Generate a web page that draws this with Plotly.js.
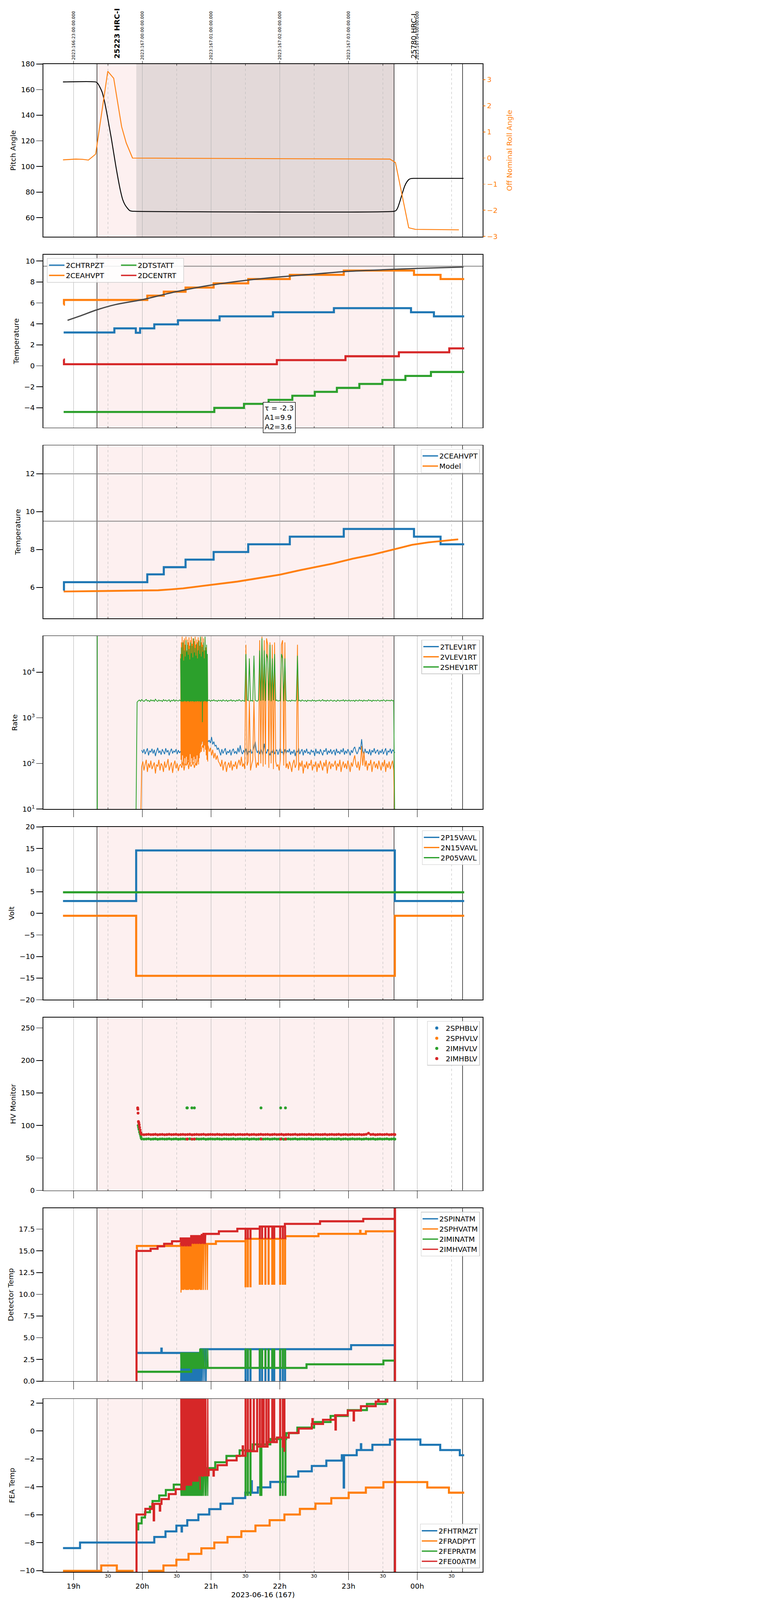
<!DOCTYPE html>
<html>
<head>
<meta charset="utf-8">
<script src="https://cdn.plot.ly/plotly-3.0.1.min.js"></script>
<style>html,body{margin:0;padding:0;background:#fff;overflow:hidden}</style>
</head>
<body>
<div id="plot" style="width:2000px;height:6200px"></div>
<script>
// ---- time helpers: local times, 00:xx belongs to the next day
function T(s){ return (s < '12' ? '2023-06-16 ' : '2023-06-15 ') + s; }

// ---- annotations / events
var hourTicks = ['19:00','20:00','21:00','22:00','23:00','00:00'];
var utcTickText = ['2023:166:23:00:00.000','2023:167:00:00:00.000','2023:167:01:00:00.000',
                   '2023:167:02:00:00.000','2023:167:03:00:00.000','2023:167:04:00:00.000'];
var halfHourTicks = ['19:30','20:30','21:30','22:30','23:30','00:30'];
var halfHourText = '30';
var obsNames = ['25223 HRC-I', '25780 HRC-I'];
var obsTimes = ['19:38:00', '23:57:10'];
var obsBold = [true, false];
var markTimes = ['19:20:30', '23:39:48', '00:39:36'];
var shadeStart = '19:20:30', shadeEnd = '23:39:48';
var dwellStart = '19:54:48';
var dateLabel = '2023-06-16 (167)';

// ---- panel 1: pitch / roll
var pitchT = ['18:50:50','19:19:18','19:21:00','19:23:00','19:25:00','19:27:00','19:29:00','19:31:00','19:33:00','19:35:00',
  '19:37:00','19:39:00','19:41:00','19:43:00','19:45:00','19:47:00','19:49:00','19:51:00','19:53:00','23:40:00',
  '23:41:30','23:43:00','23:45:00','23:47:00','23:49:00','23:51:00','23:53:00','23:55:00','23:57:00','00:40:24'];
var pitchV = [166,166,165,162,158,151,142,132,122,111,100,90,81,74,70,67.5,65.6,65.1,65,65,
  65.6,67.8,73,79,84.5,88,90,90.6,90.7,90.7];
var rollT = ['18:50:50','19:02:00','19:08:00','19:13:00','19:19:20','19:29:54','19:35:06','19:42:00','19:46:00','19:51:30',
  '20:30:00','21:30:00','22:30:00','23:36:12','23:41:00','23:52:36','23:58:24','00:36:24'];
var rollV = [-0.07,-0.04,-0.05,-0.08,0.15,3.32,3.05,1.2,0.58,0.0,-0.01,-0.02,-0.03,-0.04,-0.17,-2.67,-2.73,-2.75];

// ---- panel 2: temperatures
var chtrT = ['18:51:24','19:35:40','19:54:24','19:58:06','20:10:30','20:31:12','21:07:30','21:54:06','22:47:18','23:54:36','00:14:36','00:41:00'];
var chtrV = [3.18,3.57,3.15,3.57,3.95,4.34,4.72,5.11,5.50,5.11,4.72,4.72];
var ceahT = ['18:51:20','18:51:40','20:04:24','20:18:48','20:37:48','21:02:18','21:32:30','22:08:48','22:55:54','23:57:12','00:20:24','00:41:00'];
var ceahV = [5.84,6.28,6.69,7.07,7.47,7.87,8.28,8.68,9.09,8.68,8.28,8.28];
var dtstT = ['18:51:24','21:02:54','21:28:48','21:50:18','22:11:00','22:30:36','22:49:54','23:09:30','23:29:36','23:49:42','00:12:00','00:41:00'];
var dtstV = [-4.41,-4.02,-3.63,-3.25,-2.86,-2.49,-2.11,-1.73,-1.35,-0.97,-0.59,-0.59];
var dcenT = ['18:51:20','18:51:40','21:57:30','22:57:24','23:44:00','00:28:00','00:41:00'];
var dcenV = [0.6,0.15,0.54,0.91,1.29,1.66,1.66];
var fitT = ['18:54:48','19:04:54','19:20:42','19:36:36','20:00:00','20:30:00','21:00:00','21:30:00','22:00:00','22:30:00','23:00:00','23:30:00','00:00:00','00:40:24'];
var fitV = [4.34,4.72,5.35,5.84,6.31,7.08,7.70,8.15,8.48,8.75,9.01,9.16,9.29,9.42];
var tempLimits = [9.5];
var fitText = 'τ = -2.3<br>A1=9.9<br>A2=3.6';

// ---- panel 3: model
var modelT = ['18:51:24','19:20:42','20:00:00','20:13:54','20:25:24','20:35:36','20:48:30','21:02:54','21:23:00','21:40:18',
  '22:00:24','22:17:36','22:32:00','22:46:24','23:03:42','23:20:54','23:38:12','23:55:30','00:09:42','00:35:48'];
var modelV = [5.785,5.80,5.83,5.85,5.90,5.95,6.05,6.15,6.31,6.48,6.68,6.91,7.09,7.26,7.52,7.73,7.99,8.25,8.38,8.54];
var modelLimits = [12, 9.5];

// ---- panel 4: rates, sampled every minute from 19:54:30
var rateStart = '19:54:30';
var tlevRate = [null,null,null,null,null,
  195,170,205,160,185,215,150,190,175,210,165,200,145,185,220,170,190,155,205,180,160,215,175,195,150,185,210,165,190,175,205,160,195,170,
  185,160,200,175,210,165,190,180,215,170,200,185,230,170,210,190,
  300,280,260,330,300,380,460,350,300,320,280,380,260,300,240,250,200,220,
  180,150,205,165,190,215,155,185,170,200,150,190,210,165,185,160,220,175,250,180,
  160,195,170,210,150,190,175,205,165,185,230,300,200,170,195,160,210,180,150,270,
  190,165,205,175,150,195,170,210,160,185,200,155,190,215,170,180,150,205,165,195,
  175,210,155,185,165,200,145,190,175,215,160,185,205,150,195,170,210,165,180,155,
  200,175,190,145,210,165,185,160,205,175,150,195,180,215,155,190,170,205,160,185,
  195,150,210,170,185,160,200,175,215,155,190,165,205,180,150,195,170,210,230,185,
  160,185,230,200,340,190,155,210,170,185,160,205,150,195,175,215,165,185,200,155,
  190,170,205,160,185,215,150,190,175,210,165,200,185,170];
var vlevRate = [null,null,null,null,3,
  85,110,70,95,120,65,100,80,115,75,90,105,60,95,85,120,70,100,90,65,110,80,95,125,70,88,105,62,92,115,78,100,68,90,
  95,80,110,70,100,90,120,75,105,85,95,110,80,100,90,120,150,200,180,250,220,300,200,260,
  240,180,220,150,200,130,170,120,150,110,
  100,85,120,70,95,110,65,90,105,80,115,70,95,85,110,75,100,120,90,140,
  85,100,75,40000,90,110,2400,70,95,120,2400,150,80,105,90,50000,100,60000,85,50000,
  95,55000,40000,80,45000,100,40000,75,45000,110,85,95,70,120,40000,50000,90,45000,80,100,
  75,110,90,65,100,120,80,95,40000,70,105,85,115,60,95,80,110,75,100,90,
  120,70,95,85,110,65,100,80,115,90,70,105,85,120,60,95,110,75,100,85,
  95,115,70,100,85,120,65,90,110,80,100,75,115,90,65,105,85,120,150,95,
  80,110,70,100,240,90,180,85,115,70,100,90,120,65,95,110,80,100,75,115,
  90,70,105,85,120,65,100,80,110,75,95,115,70,3];
var shevRate = [5,2200,
  2350,2450,2300,2500,2380,2280,2420,2520,2330,2400,2260,2480,2350,2430,2300,2550,2370,2290,2460,2340,2410,2270,2500,2360,2440,2310,2390,2480,2250,2420,2350,2500,2300,2450,2380,2330,2460,
  2350,2400,2300,2450,2380,2320,2420,2360,2300,2440,2380,2350,2300,2420,2380,2350,2400,2300,2450,2380,2320,2420,2360,2300,
  2380,2450,2300,2420,2360,2480,2330,2400,2290,2440,
  2350,2420,2300,2470,2380,2330,2450,2290,2400,2360,2480,2320,2410,2370,2300,2440,2350,2500,2380,2310,
  2420,2360,2300,25000,2450,2380,20000,2330,2410,2290,23000,2440,2360,2310,2480,30000,2350,55000,2400,30000,
  2330,25000,20000,2380,40000,2300,20000,2420,25000,2360,2450,2310,2390,2350,25000,20000,2300,20000,2440,2370,
  2330,2410,2290,2450,2360,2400,2320,2480,23000,2350,2420,2300,2460,2380,2330,2410,2270,2440,2360,2390,
  2310,2470,2350,2420,2290,2400,2360,2450,2320,2380,2500,2340,2410,2300,2440,2370,2330,2460,2390,2310,
  2420,2350,2290,2450,2380,2320,2410,2360,2480,2300,2430,2370,2340,2460,2310,2400,2350,2420,2290,2440,
  2380,2330,2470,2360,2410,2300,2450,2350,2390,2320,2480,2370,2410,2290,2440,2360,2400,2330,2460,2380,
  2310,2420,2350,2480,2390,2300,2440,2370,2410,2330,2460,2350,2400,3];
// flare burst, sampled every 20 s from 20:33:30
var burstStart = '20:33:30';
var vlevBurst = [25000,120,45000,95,60000,150,35000,110,50000,90,55000,130,40000,100,60000,140,30000,95,52000,120,
  45000,105,58000,90,38000,160,50000,100,60000,130,42000,95,55000,115,35000,140,48000,100,60000,125,
  40000,90,52000,150,45000,110,58000,95,50000,130,38000,170,55000,200,45000,260,60000,300,40000,220,
  55000,180,30000,250,50000,200,35000,150,25000,120,20000,110];
var shevBurst = [20000,2300,35000,2250,25000,2350,45000,2300,18000,2280,30000,2350,22000,2300,50000,2260,28000,2320,40000,2300,
  24000,2350,32000,2280,19000,2300,45000,2330,26000,2270,38000,2310,21000,2350,55000,2290,27000,2320,34000,2300,
  23000,2260,42000,2340,20000,2300,30000,2280,48000,2330,25000,2300,60000,2250,22000,2310,36000,800,28000,2300,
  45000,2280,20000,2350,60000,2300,30000,2320,40000,2290,25000,2350];
var shevGlitchT = ['19:20:40','19:20:45','19:20:50'];
var shevGlitchV = [3, 100000, 3];

// ---- panel 5: voltages
var voltT = ['18:50:50','19:54:42','23:40:30','00:41:00'];
var p15V = [2.83,14.54,2.83,2.83];
var n15V = [-0.57,-14.46,-0.57,-0.57];
var p05T = ['18:50:50','00:41:00'];
var p05V = [4.86,4.86];

// ---- panel 6: HV monitors, band sampled every 2 min from 19:59:30
var hvStart = '19:59:30';
var sphblvT = ['19:59:30'], sphblvV = [null];   // HRC-S monitors: no valid readings
var sphvlvT = ['19:59:30'], sphvlvV = [null];
var imhvlv = [79.3,79,79.2,79.5,78.9,79.1,79.4,78.8,79.2,79.3,79,79.1,79.5,78.9,79.2,79.4,78.8,79.1,79.3,79,
  79.2,79.4,78.9,79.1,79.3,79,79.2,79.5,78.8,79.1,79.3,79.2,79,79.4,79.1,78.9,79.3,79.2,79,79.1,
  79.4,78.9,79.2,79.3,79,79.1,79.5,78.8,79.2,79.3,78.9,79.1,79.4,79,79.2,79.3,78.9,79.1,79.5,79,
  79.2,79.4,78.8,79.1,79.3,79,79.2,79.5,78.9,79.1,79.3,79.2,79,79.4,79.1,78.9,79.3,79.2,79,79.1,
  79.4,78.9,79.2,79.3,79,79.1,79.5,78.8,79.2,79.3,78.9,79.1,79.4,79,79.2,79.3,78.9,79.1,79.5,79,
  79.2,79.4,78.8,79.1,79.3,79,79.2,79.5,78.9,79.1,79.3];
var imhblv = [86.2,85.8,86.1,86.4,85.9,86,86.3,85.7,86.1,86.2,85.8,86,86.4,85.9,86.1,86.3,85.8,86,86.2,85.9,
  86.1,86.3,85.7,86,86.2,85.9,86.1,86.4,85.8,86,86.2,86.1,85.9,86.3,86,85.8,86.2,86.1,85.9,86,
  86.3,85.8,86.1,86.2,85.9,86,86.4,85.7,86.1,86.2,85.8,86,86.3,85.9,86.1,86.2,85.8,86,86.4,85.9,
  86.1,86.3,85.7,86,86.2,85.9,86.1,86.4,85.8,86,86.2,86.1,85.9,86.3,86,85.8,86.2,86.1,85.9,86,
  86.3,85.8,86.1,86.2,85.9,86,86.4,85.7,86.1,86.2,85.8,86,86.3,85.9,86.1,86.2,85.8,86,86.4,88,
  86.1,86.3,85.7,86,86.2,85.9,86.1,86.4,85.8,86,86.2];
var imhvlvEvT = ['19:56:30','19:56:50','19:57:10','19:57:40','19:58:10','19:58:40','19:59:00',
  '20:39:00','20:39:20','20:43:20','20:45:30','21:43:40','22:00:50','22:05:00','23:40:30'];
var imhvlvEvV = [100,97,94,90,87,84,81,127,127,127,127,127,127,127,79];
var imhblvEvT = ['19:56:00','19:56:10','19:56:20','19:56:40','19:57:00','19:57:20','19:57:40','19:58:10','19:58:40','19:59:00',
  '20:39:00','20:39:20','20:43:20','20:45:30','21:43:40','22:00:50','22:05:00','23:40:30'];
var imhblvEvV = [127,125,119,106,104,101,97,93,89,87,79,79,79,79,79,79,79,86];

// ---- panel 7: detector temperatures
var spinT = ['19:55:00','20:16:40','20:17:00','20:51:18','23:02:18','23:40:00'];
var spinV = [3.25,3.75,3.25,3.68,4.14,4.14];
var sphvT = ['19:55:00','19:55:20','20:33:30','21:04:18','21:30:12','22:05:00','22:33:48','23:10:10','23:10:30','23:15:12','23:40:00'];
var sphvV = [15.2,15.56,15.8,16.1,16.38,16.69,16.96,17.3,16.96,17.25,17.25];
var iminT = ['19:55:00','20:42:42','22:23:24','23:30:30','23:40:00'];
var iminV = [1.08,1.52,1.94,2.37,2.37];
var imhvT = ['19:54:50','19:55:00','20:07:18','20:13:24','20:19:06','20:26:00','20:33:30','20:42:42','20:53:24','21:06:54',
  '21:23:00','21:42:36','22:04:30','22:35:12','23:12:54','23:40:30','23:40:40','23:40:50'];
var imhvV = [-20,14.99,15.24,15.52,15.81,16.1,16.43,16.7,16.95,17.25,17.54,17.8,18.1,18.4,18.68,40,-20,-20];
var spinBurst = [0,3.3,0,3.25,0,3.3,0,3.3,0,3.25,0,3.3,0,3.3,0,3.25,0,3.3,0,3.3,
  0,3.25,0,3.3,0,3.3,0,3.25,0,3.3,0,3.3,0,3.25,0,3.3,0,3.3,0,3.25,
  0,3.3,0,3.3,0,3.25,0,3.3,0,3.3,0,3.25,0,3.3,
  0,3.68,3.68,0,3.68,3.68,3.68,0,3.68,3.68,3.68,0,3.68,0,3.68];
var sphvBurst = [15.8,10.2,15.8,10.5,15.8,10.5,15.7,10.5,15.8,10.5,15.8,10.6,15.8,10.5,15.7,10.5,15.8,10.5,15.8,10.5,
  15.8,10.5,15.7,10.6,15.8,10.5,15.8,10.5,15.8,10.5,15.7,10.5,15.8,10.5,15.8,10.6,15.8,10.5,15.7,10.5,
  15.8,10.5,15.8,10.5,15.8,10.5,15.7,10.5,15.8,10.6,15.8,10.5,15.8,10.5,15.8,15.8,10.5,15.8,15.8,15.8,
  10.5,15.8,15.8,15.8,15.8,10.5,15.8,15.8,15.8,15.8,10.5,15.8,15.8,15.8,15.8];
var iminBurst = [3.3,1.45,3.3,1.45,3.3,1.45,3.3,1.45,3.3,1.45,3.3,1.45,3.3,1.45,3.3,1.45,3.3,1.45,3.3,1.45,
  3.3,1.45,3.3,1.45,3.3,1.45,3.3,1.45,3.3,1.45,3.3,1.45,3.3,1.45,3.3,1.45,3.3,1.45,3.3,1.45,
  3.3,1.45,3.3,1.45,3.3,1.45,3.3,1.45,3.3,1.5,3.75,1.5,3.75,1.5,3.75,1.5,1.5,3.75,1.5,1.5,
  1.5,3.75,1.5,1.5,1.5,1.5,3.75,1.5,1.5,1.5,1.5,3.75,1.5,1.5,1.5];
var imhvBurst = [16.43,15.5,16.43,15.6,16.43,15.5,16.43,15.55,16.43,15.5,16.43,15.6,16.43,15.5,16.43,15.5,16.43,15.6,16.43,15.5,
  16.43,15.55,16.43,15.5,16.43,15.6,16.43,15.5,
  16.7,15.8,16.7,15.85,16.7,15.8,16.7,15.8,16.7,15.85,16.7,15.8,16.7,15.8,16.7,15.85,16.7,15.8,16.7,15.8,
  16.7,15.85,16.7,15.8,16.7,15.8,16.95,15.8,16.95,15.85,16.95,15.8,16.95,16.95,15.8,16.95,16.95,15.8,16.95,16.95];
var detSpikeT = ['21:30:12','21:32:12','21:34:30','21:42:36','21:44:36','21:47:30','21:50:18','21:53:30','21:55:12','22:00:24','22:02:42','22:04:40'];
var spinSpikeLo = [0,0,0,0,0,0,0,0,0,0,0,0];
var spinSpikeHi = [3.68,3.68,3.68,3.68,3.68,3.68,3.68,3.68,3.68,3.68,3.68,3.68];
var sphvSpikeLo = [10.8,10.8,10.8,11.1,11.1,11.1,11.1,11.1,11.1,11.1,11.1,11.1];
var sphvSpikeHi = [16.38,16.38,16.38,16.38,16.38,16.38,16.38,16.38,16.38,16.38,16.38,16.38];
var iminSpikeLo = [1.52,1.52,1.52,1.52,1.52,1.52,1.52,1.52,1.52,1.52,1.52,1.52];
var iminSpikeHi = [3.75,3.75,3.75,3.75,3.75,3.75,3.75,3.75,3.75,3.75,3.75,3.75];
var imhvSpikeLo = [16.3,16.3,16.3,16.35,16.35,16.35,16.35,16.35,16.35,16.35,16.35,16.35];
var imhvSpikeHi = [17.54,17.54,17.54,17.8,17.8,17.8,17.8,17.8,17.8,17.8,17.8,17.8];

// ---- panel 8: FEA temperatures
var fhtrT = ['18:50:50','19:05:42','20:10:30','20:20:18','20:29:48','20:34:20','20:34:40','20:39:18','20:49:00','20:58:30',
  '21:08:18','21:19:00','21:29:54','21:35:20','21:35:40','21:40:54','21:51:48','22:05:00','22:16:12','22:28:00',
  '22:40:42','22:54:12','22:55:50','22:56:10','23:07:12','23:10:50','23:11:10','23:20:54','23:36:12','00:02:48',
  '00:20:06','00:37:12','00:41:00'];
var fhtrV = [-8.39,-7.99,-7.59,-7.19,-6.78,-7.2,-6.78,-6.39,-5.98,-5.6,-5.21,-4.81,-4.42,-3.6,-4.42,-4.04,-3.65,-3.27,-2.89,-2.51,
  -2.12,-1.74,-4.05,-1.74,-1.37,-0.95,-1.37,-0.99,-0.61,-0.99,-1.37,-1.74,-1.74];
var fradT = ['18:50:50','19:24:12','19:37:48','19:51:30','20:06:00','20:18:30','20:29:48','20:40:24','20:51:36','21:02:54',
  '21:14:24','21:26:30','21:38:48','21:51:12','22:04:06','22:17:36','22:31:12','22:45:00','23:00:12','23:15:12',
  '23:30:30','00:08:48','00:27:42','00:41:00'];
var fradV = [-10.02,-9.63,-10.02,-10.4,-10.02,-9.63,-9.22,-8.8,-8.4,-7.99,-7.59,-7.18,-6.77,-6.39,-5.98,-5.58,-5.2,-4.81,-4.42,-4.05,
  -3.66,-4.05,-4.42,-4.42];
var feprT = ['19:55:40','19:56:30','19:59:30','20:02:24','20:06:42','20:09:00','20:14:48','20:20:36','20:27:30','20:41:00',
  '20:50:00','21:03:42','21:13:30','21:25:00','21:36:30','21:51:48','22:05:36','22:15:24','22:30:00','22:44:24',
  '22:59:24','23:16:06','23:32:30','23:40:30'];
var feprV = [-7.05,-6.62,-6.2,-5.82,-5.42,-5.02,-4.62,-4.23,-3.84,-3.25,-2.66,-2.24,-1.79,-1.39,-0.96,-0.58,-0.16,0.24,0.64,1.07,
  1.49,1.93,2.4,2.4];
var fe00T = ['19:54:50','19:55:00','20:02:42','20:08:48','20:10:00','20:10:20','20:15:20','20:15:40','20:16:48','20:23:12',
  '20:29:12','20:37:00','20:42:42','20:48:30','20:58:00','21:02:10','21:02:30','21:05:42','21:13:48','21:22:24',
  '21:27:40','21:28:00','21:30:12','21:40:18','21:49:24','21:57:30','22:07:54','22:16:30','22:28:00','22:28:30',
  '22:28:50','22:37:48','22:48:24','22:48:40','22:49:00','22:59:24','23:04:30','23:04:50','23:10:54','23:23:48',
  '23:26:00','23:26:20','23:33:54','23:40:30','23:40:40','23:40:50'];
var fe00V = [-12,-5.98,-5.58,-5.22,-6.4,-5.22,-5.7,-5.22,-4.88,-4.52,
  -4.17,-3.85,-3.56,-3.18,-2.78,-3.2,-2.78,-2.45,-2.11,-1.78,
  -1.1,-1.78,-1.45,-1.12,-0.8,-0.47,-0.14,0.17,0.5,0.85,
  0.5,0.8,1.13,0.1,1.13,1.46,0.75,1.46,1.77,2.1,
  3,2.1,2.45,5,-12,-12];
var feprBurst = [-3.84,-4.65,-3.84,-4.65,-3.84,-4.65,-3.84,-4.65,-3.84,-4.65,-3.84,-4.65,-3.84,-4.65,-3.84,-4.65,-3.84,-4.65,-3.84,-4.65,
  -3.84,-4.65,-3.84,-4.65,-3.25,-4.65,-3.25,-4.65,-3.25,-4.65,-3.25,-4.65,-3.25,-4.65,-3.25,-4.65,-3.25,-4.65,-3.25,-4.65,
  -3.25,-4.65,-3.25,-4.65,-3.25,-4.65,-3.25,-4.65,-3.25,-4.65,-2.66,-4.65,-2.66,-4.65,-2.66,-4.65,-2.66,-4.65,-2.66,-2.66,
  -4.65,-2.66,-2.66,-2.66,-4.65,-2.66,-2.66,-4.65,-2.66,-2.66,-2.66,-4.65,-2.66,-2.66,-2.66];
var fe00Burst = [5,-4.17,5,-4.17,5,-4.17,5,-4.17,5,-4.17,5,
  -3.85,5,-3.85,5,-3.85,5,-3.85,5,-3.85,5,-3.85,5,-3.85,5,-3.85,5,-3.85,
  5,-3.56,5,-3.56,5,-3.56,5,-3.56,5,-3.56,5,-3.56,5,-3.56,5,-3.56,5,
  -3.18,5,-3.18,5,-3.18,5,-4.2,5,-3.18,5,-3.18,5,-3.3,5,-3.18,5,-3.18,-3.18,5,-3.18,-3.18,5,-3.18,-3.18,-3.18,-3.18,5,-3.18,-3.18,-3.18];
var feprSpikeT = ['21:30:12','21:32:12','21:34:30','21:43:00','21:44:00','22:00:24','22:02:42','22:05:00'];
var feprSpikeLo = [-4.65,-4.65,-4.65,-4.65,-4.65,-4.65,-4.65,-4.65];
var feprSpikeHi = [-1.39,-1.39,-1.39,-0.96,-0.96,-0.58,-0.58,-0.58];
var fe00SpikeT = ['21:30:12','21:32:12','21:34:30','21:37:24','21:40:18','21:42:36','21:44:36','21:46:00','21:48:18','21:50:18',
  '21:53:30','21:55:12','22:00:24','22:02:42','22:04:06'];
var fe00SpikeLo = [-1.45,-1.45,-1.45,-1.45,-1.12,-1.12,-1.12,-1.12,-1.12,-0.8,-0.8,-0.8,-0.47,-1.2,-1.5];
var fe00SpikeHi = [5,5,5,5,5,5,5,5,5,5,5,5,5,5,5];

// ---- colours
var C = {blue:'#1f77b4', orange:'#ff7f0e', green:'#2ca02c', red:'#d62728'};

// ---- geometry
var W = 2000, H = 6200, ML = 168, MR = 129, MT = 248, MB = 109;
var PW = W - ML - MR, PH = H - MT - MB;
var PANEL_H = 670, PANEL_STEP = 739;
function pTop(k){ return MT + PANEL_STEP*(k-1); }
function py(p){ return (H - MB - p)/PH; }
function px(p){ return (p - ML)/PW; }
function xid(k){ return k === 1 ? 'x' : 'x' + k; }
function yid(k){ return k === 1 ? 'y' : 'y' + k; }

var traces = [];
function steps(k, name, ts, vs, color, width, legend, shape){
  traces.push({type:'scatter', mode:'lines', name:name || '', x:ts.map(T), y:vs,
    xaxis:xid(k), yaxis:yid(k), line:{color:color, width:width, shape:shape || 'hv'},
    legend:legend, showlegend:!!name, hoverinfo:'skip'});
}
function sampled(k, start, dtMs, vs, color, width, name, legend){
  traces.push({type:'scatter', mode:'lines', name:name || '', x0:T(start), dx:dtMs, y:vs,
    xaxis:xid(k), yaxis:yid(k), line:{color:color, width:width},
    legend:legend, showlegend:!!name, hoverinfo:'skip'});
}
function spikes(k, ts, lo, hi, color, width, legend){
  var xs = [], ys = [];
  ts.forEach(function(t, i){ xs.push(T(t), T(t), null); ys.push(lo[i], hi[i], null); });
  traces.push({type:'scatter', mode:'lines', x:xs, y:ys, xaxis:xid(k), yaxis:yid(k),
    line:{color:color, width:width}, legend:legend, showlegend:false, hoverinfo:'skip'});
}
function dots(k, name, xs, x0, dx, vs, color, legend){
  var tr = {type:'scatter', mode:'markers', name:name || '', y:vs, xaxis:xid(k), yaxis:yid(k),
    marker:{color:color, size:11}, legend:legend, showlegend:!!name, hoverinfo:'skip'};
  if (xs) tr.x = xs.map(T); else { tr.x0 = T(x0); tr.dx = dx; }
  traces.push(tr);
}

// panel 1
traces.push({type:'scatter', mode:'lines', x:pitchT.map(T), y:pitchV, xaxis:'x', yaxis:'y',
  line:{color:'#000', width:3.5, shape:'spline', smoothing:0.6}, showlegend:false, hoverinfo:'skip'});
traces.push({type:'scatter', mode:'lines', x:rollT.map(T), y:rollV, xaxis:'x', yaxis:'y9',
  line:{color:C.orange, width:3.5}, showlegend:false, hoverinfo:'skip'});

// panel 2
steps(2, '2CHTRPZT', chtrT, chtrV, C.blue, 8, 'legend');
steps(2, '2CEAHVPT', ceahT, ceahV, C.orange, 8, 'legend');
steps(2, '2DTSTATT', dtstT, dtstV, C.green, 8, 'legend2');
steps(2, '2DCENTRT', dcenT, dcenV, C.red, 8, 'legend2');
steps(2, null, fitT, fitV, '#484848', 5, 'legend', 'spline');

// panel 3
steps(3, '2CEAHVPT', ceahT, ceahV, C.blue, 8, 'legend3');
steps(3, 'Model', modelT, modelV, C.orange, 7, 'legend3', 'linear');

// panel 4
sampled(4, rateStart, 60000, tlevRate, C.blue, 3, '2TLEV1RT', 'legend4');
sampled(4, rateStart, 60000, vlevRate, C.orange, 3, '2VLEV1RT', 'legend4');
sampled(4, burstStart, 20000, vlevBurst, C.orange, 3, null, 'legend4');
sampled(4, rateStart, 60000, shevRate, C.green, 3, '2SHEV1RT', 'legend4');
sampled(4, burstStart, 20000, shevBurst, C.green, 3, null, 'legend4');
steps(4, null, shevGlitchT, shevGlitchV, C.green, 3, 'legend4', 'linear');

// panel 5
steps(5, '2P15VAVL', voltT, p15V, C.blue, 8, 'legend5');
steps(5, '2N15VAVL', voltT, n15V, C.orange, 8, 'legend5');
steps(5, '2P05VAVL', p05T, p05V, C.green, 8, 'legend5');

// panel 6
dots(6, '2SPHBLV', sphblvT, null, null, sphblvV, C.blue, 'legend6');
dots(6, '2SPHVLV', sphvlvT, null, null, sphvlvV, C.orange, 'legend6');
dots(6, '2IMHVLV', null, hvStart, 120000, imhvlv, C.green, 'legend6');
dots(6, null, imhvlvEvT, null, null, imhvlvEvV, C.green, 'legend6');
dots(6, '2IMHBLV', null, hvStart, 120000, imhblv, C.red, 'legend6');
dots(6, null, imhblvEvT, null, null, imhblvEvV, C.red, 'legend6');

// panel 7
steps(7, '2SPINATM', spinT, spinV, C.blue, 8, 'legend7');
sampled(7, burstStart, 20000, spinBurst, C.blue, 4, null, 'legend7');
spikes(7, detSpikeT, spinSpikeLo, spinSpikeHi, C.blue, 8, 'legend7');
steps(7, '2SPHVATM', sphvT, sphvV, C.orange, 8, 'legend7');
sampled(7, burstStart, 20000, sphvBurst, C.orange, 4, null, 'legend7');
spikes(7, detSpikeT, sphvSpikeLo, sphvSpikeHi, C.orange, 8, 'legend7');
steps(7, '2IMINATM', iminT, iminV, C.green, 8, 'legend7');
sampled(7, burstStart, 20000, iminBurst, C.green, 4, null, 'legend7');
spikes(7, detSpikeT, iminSpikeLo, iminSpikeHi, C.green, 8, 'legend7');
steps(7, '2IMHVATM', imhvT, imhvV, C.red, 8, 'legend7');
sampled(7, burstStart, 20000, imhvBurst, C.red, 4, null, 'legend7');
spikes(7, detSpikeT, imhvSpikeLo, imhvSpikeHi, C.red, 8, 'legend7');

// panel 8
steps(8, '2FHTRMZT', fhtrT, fhtrV, C.blue, 8, 'legend8');
steps(8, '2FRADPYT', fradT, fradV, C.orange, 8, 'legend8');
steps(8, '2FEPRATM', feprT, feprV, C.green, 8, 'legend8');
sampled(8, burstStart, 20000, feprBurst, C.green, 4, null, 'legend8');
spikes(8, feprSpikeT, feprSpikeLo, feprSpikeHi, C.green, 8, 'legend8');
steps(8, '2FE00ATM', fe00T, fe00V, C.red, 8, 'legend8');
sampled(8, burstStart, 20000, fe00Burst, C.red, 4, null, 'legend8');
spikes(8, fe00SpikeT, fe00SpikeLo, fe00SpikeHi, C.red, 8, 'legend8');

// ---- layout
var FONT = 'DejaVu Sans';
var xRange = [T('18:33:40'), T('00:57:10')];
var layout = {
  width: W, height: H,
  margin: {l: ML, r: MR, t: MT, b: MB, autoexpand: false},
  paper_bgcolor: '#fff', plot_bgcolor: '#fff',
  font: {family: FONT, size: 28, color: '#000'},
  shapes: [], annotations: []
};

var yCfg = {
  1: {title:'Pitch Angle', range:[45,180], dtick:20},
  2: {title:'Temperature', range:[-5.9,10.6], dtick:2},
  3: {title:'Temperature', range:[4.37,13.5], dtick:2},
  4: {title:'Rate', type:'log', range:[1,4.79]},
  5: {title:'Volt', range:[-20,20], dtick:5},
  6: {title:'HV Monitor', range:[0,266], dtick:50},
  7: {title:'Detector Temp', range:[0,19.9], dtick:2.5, tickformat:'.1f'},
  8: {title:'FEA Temp', range:[-10.09,2.29], dtick:2}
};

for (var k = 1; k <= 8; k++) {
  var pt = pTop(k);
  var dom = [py(pt + PANEL_H), py(pt)];
  var xa = {
    type:'date', range:xRange, anchor:yid(k), domain:[0,1],
    showline:true, linecolor:'#000', linewidth:2.5, mirror:true,
    tickmode:'array', tickvals:hourTicks.map(T),
    ticks: k >= 4 ? 'outside' : '', ticklen:29, tickwidth:2, tickcolor:'#000',
    showticklabels: k === 8, tickfont:{size:28},
    showgrid:true, gridcolor:'#b0b0b0', gridwidth:2, zeroline:false,
    minor:{tickmode:'array', tickvals:halfHourTicks.map(T), ticks:'inside', ticklen:6, tickwidth:1.5, tickcolor:'#000',
      showgrid:true, gridcolor:'#b8b8b8', griddash:'dash', gridwidth:1.5}
  };
  if (k === 8) {
    xa.ticktext = hourTicks.map(function(h){ return h.slice(0, 2) + 'h'; });
    xa.title = {text:dateLabel, font:{size:28}, standoff:4};
  }
  if (k === 1) {
    // UTC time labels along the top of the first panel
    xa.side = 'top';
    xa.ticks = 'outside'; xa.ticklen = 10; xa.tickwidth = 1.5;
    xa.showticklabels = true; xa.ticktext = utcTickText;
    xa.tickangle = -90; xa.tickfont = {size:16};
  }
  layout['xaxis' + (k === 1 ? '' : k)] = xa;

  var c = yCfg[k];
  var ya = {
    domain:dom, anchor:xid(k), range:c.range, type:c.type || 'linear',
    showline:true, linecolor:'#000', linewidth:2.5, mirror:true,
    ticks:'outside', ticklen:25, tickwidth:2.5, tickcolor:'#000', tickfont:{size:28},
    showgrid:false, zeroline:false,
    title:{text:c.title, font:{size:28}, standoff:12}
  };
  if (c.dtick) { ya.dtick = c.dtick; ya.tick0 = 0; }
  if (c.tickformat) ya.tickformat = c.tickformat;
  if (c.type === 'log') {
    ya.tickmode = 'array';
    ya.tickvals = [10, 100, 1000, 10000];
    ya.ticktext = ['10<sup>1</sup>', '10<sup>2</sup>', '10<sup>3</sup>', '10<sup>4</sup>'];
  }
  layout['yaxis' + (k === 1 ? '' : k)] = ya;

  // observation shading and transition markers
  layout.shapes.push({type:'rect', xref:xid(k), yref:yid(k) + ' domain', x0:T(shadeStart), x1:T(shadeEnd),
    y0:0, y1:1, fillcolor:'#fdf0f0', line:{width:0}, layer:'below'});
  if (k === 1) {
    layout.shapes.push({type:'rect', xref:'x', yref:'y domain', x0:T(dwellStart), x1:T(shadeEnd),
      y0:0, y1:1, fillcolor:'#e3d9d9', line:{width:0}, layer:'below'});
  }
  markTimes.forEach(function(t){
    layout.shapes.push({type:'line', xref:xid(k), yref:yid(k) + ' domain', x0:T(t), x1:T(t), y0:0, y1:1,
      line:{color:'#000', width:2}, layer:'below'});
  });
}

// right axis of panel 1
layout.yaxis9 = {overlaying:'y', side:'right', anchor:'x', range:[-3.02,3.6], dtick:1, tick0:0,
  showline:false, showgrid:false, zeroline:false,
  ticks:'outside', ticklen:10, tickwidth:2.5, tickcolor:C.orange, tickfont:{size:28, color:C.orange},
  title:{text:'Off Nominal Roll Angle', font:{size:28, color:C.orange}, standoff:36}};

// half-hour labels under the bottom panel
halfHourTicks.forEach(function(h){
  layout.annotations.push({xref:'x8', yref:'paper', x:T(h), y:py(H - MB + 3), xanchor:'center', yanchor:'top',
    showarrow:false, text:halfHourText, font:{size:19}});
});

// limit lines
tempLimits.forEach(function(v){
  layout.shapes.push({type:'line', xref:'x2 domain', yref:'y2', x0:0, x1:1, y0:v, y1:v,
    line:{color:'#808080', width:3}, layer:'below'});
});
modelLimits.forEach(function(v){
  layout.shapes.push({type:'line', xref:'x3 domain', yref:'y3', x0:0, x1:1, y0:v, y1:v,
    line:{color:'#808080', width:3}, layer:'below'});
});

// observation labels
obsNames.forEach(function(n, i){
  layout.annotations.push({xref:'x', yref:'paper', x:T(obsTimes[i]), y:py(MT - 19),
    xanchor:'center', yanchor:'bottom', textangle:-90, showarrow:false,
    text: obsBold[i] ? '<b>' + n + '</b>' : n, font:{size:28}});
});

// fit parameter box
layout.annotations.push({xref:'x2', yref:'y2', x:T('21:59:30'), y:-4.93, showarrow:false,
  text:fitText, align:'left', bgcolor:'#fff', bordercolor:'#000', borderwidth:2, borderpad:5,
  font:{size:28}});

// legends
var legBase = {bgcolor:'rgba(255,255,255,0.85)', bordercolor:'#cccccc', borderwidth:2,
  font:{size:28}, itemwidth:60, itemsizing:'constant', xref:'paper', yref:'paper'};
function leg(extra){ return Object.assign({}, legBase, extra); }
var p2top = pTop(2);
layout.shapes.push({type:'rect', xref:'paper', yref:'paper', x0:px(183), x1:px(712),
  y0:py(p2top + 107), y1:py(p2top + 14), fillcolor:'rgba(255,255,255,0.85)',
  line:{color:'#cccccc', width:2}, layer:'above'});
layout.legend = leg({x:px(185), y:py(p2top + 16), xanchor:'left', yanchor:'top', bgcolor:'rgba(0,0,0,0)', borderwidth:0});
layout.legend2 = leg({x:px(464), y:py(p2top + 16), xanchor:'left', yanchor:'top', bgcolor:'rgba(0,0,0,0)', borderwidth:0});
[3,4,5,6,7].forEach(function(k){
  layout['legend' + k] = leg({x:px(1860), y:py(pTop(k) + 14), xanchor:'right', yanchor:'top'});
});
layout.legend8 = leg({x:px(1860), y:py(pTop(8) + PANEL_H - 14), xanchor:'right', yanchor:'bottom'});

// the browser may give a shorter window than the 2000x6200 figure: scale the whole figure to fit it
var plotDiv = document.getElementById('plot');
var fit = Math.min(1, window.innerWidth / W, window.innerHeight / H);
if (fit < 1) {
  plotDiv.style.transformOrigin = '0 0';
  plotDiv.style.transform = 'scale(' + fit + ')';
}

Plotly.newPlot(plotDiv, traces, layout, {staticPlot:true});
</script>
</body>
</html>
